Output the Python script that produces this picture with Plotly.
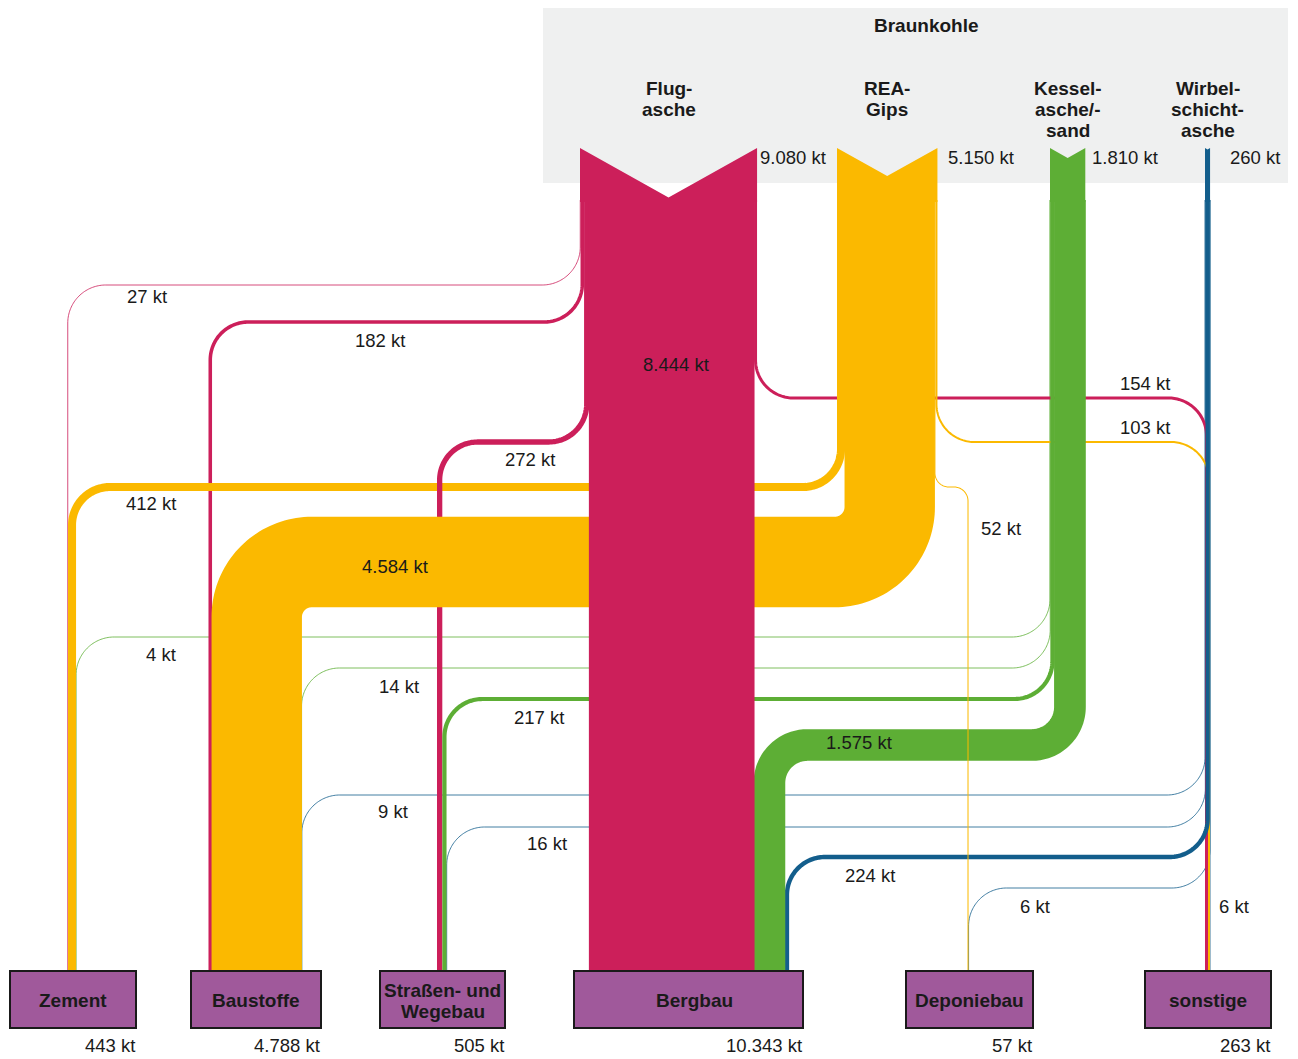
import math
import plotly.graph_objects as go

# ---------------- data ----------------
title_text = "Braunkohle"
source_names = ["Flugasche", "REA-Gips", "Kesselasche/-sand", "Wirbelschichtasche"]
source_label_lines = [["Flug-", "asche"], ["REA-", "Gips"],
                      ["Kessel-", "asche/-", "sand"], ["Wirbel-", "schicht-", "asche"]]
source_totals = [9080, 5150, 1810, 260]

target_names = ["Zement", "Baustoffe", "Straßen- und Wegebau", "Bergbau", "Deponiebau", "sonstige"]
target_label_lines = [["Zement"], ["Baustoffe"], ["Straßen- und", "Wegebau"],
                      ["Bergbau"], ["Deponiebau"], ["sonstige"]]
target_totals = [443, 4788, 505, 10343, 57, 263]

flow_source = [0, 0, 0, 0, 0, 1, 1, 1, 1, 2, 2, 2, 2, 3, 3, 3, 3, 3]
flow_target = [0, 1, 2, 3, 5, 0, 1, 4, 5, 0, 1, 2, 3, 1, 2, 3, 4, 5]
flow_value = [27, 182, 272, 8444, 154, 412, 4584, 52, 103, 4, 14, 217, 1575, 9, 16, 224, 6, 6]

# ---------------- layout / style config ----------------
W, H = 1298, 1059
SCALE = 0.0195          # px per kt
MIN_W = 0.8
BLEED = 1.0             # overlap for wide bands (avoids anti-alias seams)
FONT = "Liberation Sans, Arial, sans-serif"
FS = 18.5
FS_BOLD = 19
src_colors = ["#CC1F5A", "#FBB900", "#5DAE35", "#135E8C"]
box_fill = "#A0599B"
header_fill = "#EFF0F0"

SRC_X = [580, 837, 1050, 1205]
SRC_VALUE_LABEL_X = [758, 946, 1090, 1228]
SRC_TOP = 148
NOTCH = 0.28
FLOW_Y0 = 200
HEADER = (543, 1288, 8, 183)
TITLE_X = 926

TGT_BOX = [(10, 136), (191, 321), (380, 505), (574, 803), (906, 1033), (1145, 1271)]
TGT_LABEL_DX = [0, 0, 0, 6, 0, 0]
TGT_Y0, TGT_Y1 = 971, 1028
TGT_FLOW_X = [67.5, 208.5, 437, 589.4, 967.5, 1205]

# left-to-right order of flows inside every source / target node
src_order = [[0, 1, 2, 3, 4], [5, 6, 7, 8], [9, 10, 11, 12], [13, 14, 15, 16, 17]]
tgt_order = [[0, 5, 9], [1, 6, 10, 13], [2, 11, 14], [3, 12, 15], [7, 16], [4, 8, 17]]

# horizontal lane (centre y) of every routed flow, corner radii
LANE = {0: 285, 1: 322, 2: 442, 4: 398, 5: 487, 6: 562, 7: 487, 8: 442,
        9: 637, 10: 668, 11: 699, 12: 745, 13: 795, 14: 827, 15: 857, 16: 888}
RADIUS = {6: 55, 7: 14}
DEFAULT_R = 38

# flow label positions (text centre)
LABEL_POS = {0: (147, 296), 1: (380, 340), 2: (530, 459), 3: (676, 364), 4: (1145, 383),
             5: (151, 503), 6: (395, 566), 7: (1001, 528), 8: (1145, 427),
             9: (161, 654), 10: (399, 686), 11: (539, 717), 12: (859, 742),
             13: (393, 811), 14: (547, 843), 15: (870, 875), 16: (1035, 906), 17: (1234, 906)}

DRAW_ORDER = [13, 14, 16, 17, 9, 10, 4, 8, 0, 1, 5, 2, 6, 11, 15, 12, 7, 3]


def fmt(v):
    return f"{v:,}".replace(",", ".") + " kt"


# ---------------- geometry from values ----------------
n_flows = len(flow_value)
true_w = [v * SCALE for v in flow_value]
xs = [0.0] * n_flows
xt = [0.0] * n_flows
for s, order in enumerate(src_order):
    cur = SRC_X[s]
    for f in order:
        xs[f] = cur + true_w[f] / 2
        cur += true_w[f]
for t, order in enumerate(tgt_order):
    cur = TGT_FLOW_X[t]
    for f in order:
        xt[f] = cur + true_w[f] / 2
        cur += true_w[f]


def flow_path(x_s, x_t, lane, r1, r2, y0, y1, n=40):
    pts = [(x_s, y0)]
    if lane is None or abs(x_s - x_t) < 3:
        pts.append((x_s, y1))
        return pts
    d = -1 if x_t < x_s else 1
    cx, cy = x_s + d * r1, lane - r1
    a0 = 0 if d < 0 else math.pi
    a1 = math.pi / 2
    for i in range(n + 1):
        tt = a0 + (a1 - a0) * i / n
        pts.append((cx + r1 * math.cos(tt), cy + r1 * math.sin(tt)))
    cx, cy = x_t - d * r2, lane + r2
    a0 = -math.pi / 2
    a1 = -math.pi if d < 0 else 0
    for i in range(n + 1):
        tt = a0 + (a1 - a0) * i / n
        pts.append((cx + r2 * math.cos(tt), cy + r2 * math.sin(tt)))
    pts.append((x_t, y1))
    return pts


fig = go.Figure()

for f in DRAW_ORDER:
    r = RADIUS.get(f, DEFAULT_R)
    pts = flow_path(xs[f], xt[f], LANE.get(f), r, r, FLOW_Y0, TGT_Y0 + 1)
    w = max(true_w[f], MIN_W)
    if true_w[f] > 20:
        w += BLEED
    fig.add_trace(go.Scatter(
        x=[p[0] for p in pts], y=[p[1] for p in pts], mode="lines",
        line=dict(color=src_colors[flow_source[f]], width=w, simplify=False),
        hoverinfo="skip", showlegend=False))

# source chevrons
for s, tot in enumerate(source_totals):
    x0 = SRC_X[s]
    x1 = x0 + tot * SCALE
    depth = NOTCH * (x1 - x0)
    px = [x0, (x0 + x1) / 2, x1, x1, x0, x0]
    py = [SRC_TOP, SRC_TOP + depth, SRC_TOP, FLOW_Y0 + 2, FLOW_Y0 + 2, SRC_TOP]
    fig.add_trace(go.Scatter(x=px, y=py, mode="lines", fill="toself",
                             fillcolor=src_colors[s], line=dict(width=0, color=src_colors[s]),
                             hoverinfo="skip", showlegend=False))

shapes = [dict(type="rect", xref="x", yref="y", x0=HEADER[0], x1=HEADER[1], y0=HEADER[2], y1=HEADER[3],
               fillcolor=header_fill, line=dict(width=0), layer="below")]
annotations = []


def txt(x, y, text, bold=False, xanchor="center", yanchor="middle"):
    annotations.append(dict(x=x, y=y, xref="x", yref="y", text=f"<b>{text}</b>" if bold else text,
                            showarrow=False, xanchor=xanchor, yanchor=yanchor,
                            font=dict(family=FONT, size=FS_BOLD if bold else FS, color="#1a1a1a")))


txt(TITLE_X, 25, title_text, bold=True)
for s, lines in enumerate(source_label_lines):
    x0 = SRC_X[s]
    x1 = x0 + source_totals[s] * SCALE
    cx = (x0 + x1) / 2
    for i, ln in enumerate(lines):
        txt(cx, 88 + 21 * i, ln, bold=True)
    txt(SRC_VALUE_LABEL_X[s], 157, fmt(source_totals[s]), xanchor="left")

for t, (bx0, bx1) in enumerate(TGT_BOX):
    shapes.append(dict(type="rect", xref="x", yref="y", x0=bx0, x1=bx1, y0=TGT_Y0, y1=TGT_Y1,
                       fillcolor=box_fill, line=dict(width=2, color="#1a1a1a"), layer="above"))
    lines = target_label_lines[t]
    cy = (TGT_Y0 + TGT_Y1) / 2 + 1
    for i, ln in enumerate(lines):
        txt((bx0 + bx1) / 2 + TGT_LABEL_DX[t], cy + 21 * (i - (len(lines) - 1) / 2), ln, bold=True)
    txt(bx1 + 1, 1045, fmt(target_totals[t]), xanchor="right")

for f in range(n_flows):
    lx, ly = LABEL_POS[f]
    txt(lx, ly, fmt(flow_value[f]))

fig.update_layout(
    width=W, height=H, margin=dict(l=0, r=0, t=0, b=0, pad=0),
    paper_bgcolor="white", plot_bgcolor="white",
    xaxis=dict(range=[0, W], visible=False, fixedrange=True),
    yaxis=dict(range=[H, 0], visible=False, fixedrange=True),
    shapes=shapes, annotations=annotations, showlegend=False)

fig.write_html("out.html", config={"displayModeBar": False},
               post_script="document.body.style.margin='0';document.body.style.overflow='hidden';")
